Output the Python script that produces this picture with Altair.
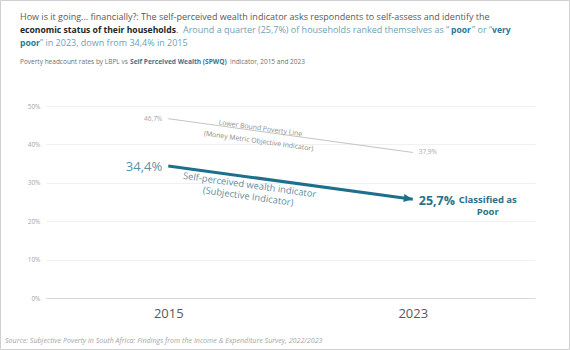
import altair as alt
import pandas as pd

# ---------------- data ----------------
years = [2015, 2023]
lbpl = [46.7, 37.9]          # Lower Bound Poverty Line headcount (%)
spwq = [34.4, 25.7]          # Self Perceived Wealth headcount (%)
y_ticks = [0, 10, 20, 30, 40, 50]

FONT = "Open Sans"
PAD_L, PAD_T, PAD_R, PAD_B = 46, 106, 35, 52
W, H = 570 - PAD_L - PAD_R, 350 - PAD_T - PAD_B

def fmt(v):
    return f"{v:.1f}".replace(".", ",") + "%"

lb_df = pd.DataFrame({"year": years, "value": lbpl, "label": [fmt(v) for v in lbpl]})
sp_df = pd.DataFrame({"year": years, "value": spwq, "label": [fmt(v) for v in spwq]})

x_scale = alt.Scale(domain=[2011, 2027], nice=False, zero=False)
y_scale = alt.Scale(domain=[0, 50], nice=False)

X = alt.X("year:Q", scale=x_scale,
          axis=alt.Axis(values=years, format="d", title=None, labelFontSize=13,
                        labelColor="#595959", labelPadding=9, ticks=False, grid=False,
                        domainColor="#d9d9d9", labelFont=FONT))
Y = alt.Y("value:Q", scale=y_scale,
          axis=alt.Axis(values=y_ticks, labelExpr="datum.value + '%'", title=None,
                        labelFontSize=6.5, labelColor="#a6a6a6", ticks=False, domain=False,
                        gridColor="#f0f0f0", labelPadding=6, labelFont=FONT))

lb_line = alt.Chart(lb_df).mark_line(color="#c4c4c4", strokeWidth=1).encode(x=X, y=Y)
sp_line = alt.Chart(sp_df).mark_line(color="#1e6f8c", strokeWidth=3).encode(x=X, y=Y)
arrow = alt.Chart(sp_df[sp_df.year == 2023]).mark_point(
    shape="M-1,-0.45 L0,0 L-1,0.45 Z", size=324, filled=True, opacity=1,
    color="#1e6f8c", angle=8).encode(x=X, y=Y)

lb_start = alt.Chart(lb_df[lb_df.year == 2015]).mark_text(
    align="right", baseline="middle", dx=-6, fontSize=6.5, color="#a6a6a6", font=FONT
).encode(x=X, y=Y, text="label:N")
lb_end = alt.Chart(lb_df[lb_df.year == 2023]).mark_text(
    align="left", baseline="middle", dx=6, fontSize=6.5, color="#a6a6a6", font=FONT
).encode(x=X, y=Y, text="label:N")
sp_start = alt.Chart(sp_df[sp_df.year == 2015]).mark_text(
    align="right", baseline="middle", dx=-6, dy=1, fontSize=13, color="#5f8fa8", font=FONT
).encode(x=X, y=Y, text="label:N")
sp_end = alt.Chart(sp_df[sp_df.year == 2023]).mark_text(
    align="left", baseline="middle", dx=6, dy=2, fontSize=12.5, fontWeight="bold",
    color="#2a6f89", font=FONT
).encode(x=X, y=Y, text="label:N")
sp_class = alt.Chart(sp_df[sp_df.year == 2023]).mark_text(
    align="center", baseline="middle", dx=75, dy=1, fontSize=9.5, fontWeight="bold",
    color="#2a6f89", font=FONT, lineBreak="\n", lineHeight=12
).encode(x=X, y=Y, text=alt.value("Classified as\nPoor"))

# rotated series annotations anchored on the lines
lb_anno = pd.DataFrame({"year": [2018.0], "value": [lbpl[0] - (lbpl[0] - lbpl[1]) * 3 / 8]})
sp_anno = pd.DataFrame({"year": [2017.7], "value": [spwq[0] - (spwq[0] - spwq[1]) * 2.7 / 8]})
lb_t1 = alt.Chart(lb_anno).mark_text(angle=8, fontSize=6.9, color="#8c8c8c", font=FONT,
                                     baseline="middle", dy=-3).encode(
    x=X, y=Y, text=alt.value("Lower Bound Poverty Line"))
lb_t2 = alt.Chart(lb_anno).mark_text(angle=8, fontSize=6.9, color="#8c8c8c", font=FONT,
                                     baseline="middle", dy=10).encode(
    x=X, y=Y, text=alt.value("(Money Metric Objective Indicator)"))
sp_t1 = alt.Chart(sp_anno).mark_text(angle=8, fontSize=9.4, color="#5f8fa8", font=FONT,
                                     baseline="middle", dy=8).encode(
    x=X, y=Y, text=alt.value("Self-perceived wealth indicator"))
sp_t2 = alt.Chart(sp_anno).mark_text(angle=8, fontSize=9.4, color="#5f8fa8", font=FONT,
                                     baseline="middle", dy=19.5).encode(
    x=X, y=Y, text=alt.value("(Subjective Indicator)"))

# ---------------- header / footer text segments ----------------
one = pd.DataFrame({"k": [0]})
GRAY, DARK, LTEAL, BTEAL = "#595959", "#262626", "#6e9fb5", "#2c7895"

def seg(text, x, y, size, color, weight="normal", style="normal", align="left"):
    return alt.Chart(one).mark_text(
        text=text, align=align, baseline="middle", fontSize=size, color=color,
        fontWeight=weight, fontStyle=style, font=FONT
    ).encode(x=alt.value(x - PAD_L), y=alt.value(y - PAD_T))

TS, TB = 9.0, 8.6
header = [
    seg("How is it going... financially?: The self-perceived wealth indicator asks respondents to self-assess  and identify the", 20, 17, TS, GRAY),
    seg("economic status of their households", 20, 30, TB, DARK, "bold"),
    seg(".", 176, 30, TS, GRAY),
    seg("Around a quarter (25,7%) of households ranked themselves as \u201c", 183, 30, TS, LTEAL),
    seg("poor", 451, 30, TB, BTEAL, "bold"),
    seg("\u201d or \u201c", 472, 30, TS, LTEAL),
    seg("very", 492, 30, TB, BTEAL, "bold"),
    seg("poor", 20, 43, TB, BTEAL, "bold"),
    seg("\u201d in 2023, down from 34,4% in 2015", 40, 43, TS, LTEAL),
    seg("Poverty headcount rates by LBPL vs", 20, 62, 6.5, "#707070"),
    seg("Self Perceived Wealth (SPWQ)", 130, 62, 6.6, "#3a7590", "bold"),
    seg("indicator, 2015 and 2023", 230, 62, 6.5, "#707070"),
    seg("Source: Subjective Poverty in South Africa: Findings from the Income & Expenditure Survey, 2022/2023",
        5, 341, 7.1, "#a6a6a6", style="italic"),
]

border = alt.Chart(one).mark_rect(fill="transparent", stroke="#d0d0d0", strokeWidth=1).encode(
    x=alt.value(-PAD_L + 0.5), x2=alt.value(570 - PAD_L - 0.5),
    y=alt.value(-PAD_T + 0.5), y2=alt.value(350 - PAD_T - 0.5))

chart = alt.layer(
    lb_line, sp_line, arrow, lb_start, lb_end, sp_start, sp_end, sp_class,
    lb_t1, lb_t2, sp_t1, sp_t2, *header, border
).properties(
    width=W, height=H,
    autosize=alt.AutoSizeParams(type="none"),
    padding={"left": PAD_L, "top": PAD_T, "right": PAD_R, "bottom": PAD_B},
    background="white",
).configure_view(stroke=None)

chart.save("out.html", embed_options={"renderer": "svg", "actions": False})
